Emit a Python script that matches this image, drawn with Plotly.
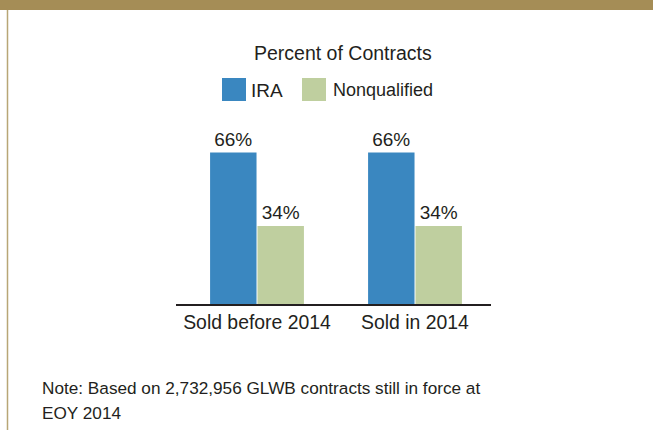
import plotly.graph_objects as go

categories = ["Sold before 2014", "Sold in 2014"]
ira = [66, 66]
nonqualified = [34, 34]
series_names = ["IRA", "Nonqualified"]
title_text = "Percent of Contracts"
note_lines = ["Note: Based on 2,732,956 GLWB contracts still in force at", "EOY 2014"]

W, H = 653, 430
FONT = "Liberation Sans, Arial, sans-serif"
TXT = "#231f20"
BLUE = "#3a87c0"
GREEN = "#bfcf9f"
GOLD = "#a58d56"

fig = go.Figure()
for name, vals, col in [(series_names[0], ira, BLUE), (series_names[1], nonqualified, GREEN)]:
    fig.add_trace(go.Bar(
        x=categories, y=vals, name=name, marker=dict(color=col, line=dict(width=0)),
        text=[f"{v}%" for v in vals], textposition="outside", cliponaxis=False,
        textfont=dict(family=FONT, size=19, color=TXT), showlegend=False, hoverinfo="skip",
    ))

def px(x):
    return x / W

def py(y):
    return 1 - y / H

shapes = [
    dict(type="rect", xref="paper", yref="paper", x0=0, x1=1, y0=py(10), y1=1,
         fillcolor=GOLD, line=dict(width=0), layer="above"),
    dict(type="line", xref="paper", yref="paper", x0=px(7.5), x1=px(7.5), y0=0, y1=py(10),
         line=dict(color="#b8a676", width=1.5)),
    dict(type="rect", xref="paper", yref="paper", x0=px(222), x1=px(246), y0=py(101), y1=py(78),
         fillcolor=BLUE, line=dict(width=0)),
    dict(type="rect", xref="paper", yref="paper", x0=px(302), x1=px(326), y0=py(101), y1=py(78),
         fillcolor=GREEN, line=dict(width=0)),
]

annotations = [
    dict(text=title_text, xref="paper", yref="paper", x=px(343), y=py(53), xanchor="center",
         yanchor="middle", showarrow=False, font=dict(family=FONT, size=19.5, color=TXT)),
    dict(text=series_names[0], xref="paper", yref="paper", x=px(249), y=py(90), xanchor="left",
         yanchor="middle", showarrow=False, font=dict(family=FONT, size=19, color=TXT)),
    dict(text=series_names[1], xref="paper", yref="paper", x=px(331), y=py(90), xanchor="left",
         yanchor="middle", showarrow=False, font=dict(family=FONT, size=18, color=TXT)),
    dict(text=note_lines[0], xref="paper", yref="paper", x=px(40), y=py(388), xanchor="left",
         yanchor="middle", showarrow=False, font=dict(family=FONT, size=17.2, color=TXT)),
    dict(text=note_lines[1], xref="paper", yref="paper", x=px(40), y=py(412.5), xanchor="left",
         yanchor="middle", showarrow=False, font=dict(family=FONT, size=17.2, color=TXT)),
]

fig.update_layout(
    width=W, height=H, margin=dict(l=0, r=0, t=0, b=0),
    paper_bgcolor="white", plot_bgcolor="white",
    barmode="group", bargap=0.4, bargroupgap=0.02,
    shapes=shapes, annotations=annotations, hovermode=False,
    xaxis=dict(domain=[px(176), px(491)], range=[-0.5127, 1.481], showline=True, linewidth=2,
               linecolor=TXT, ticks="", showgrid=False, zeroline=False, fixedrange=True,
               tickfont=dict(family=FONT, size=19.4, color=TXT)),
    yaxis=dict(domain=[py(304), py(140)], range=[0, 71.5], visible=False, showgrid=False,
               fixedrange=True),
)

fig.write_html("out.html", config={"displayModeBar": False},
               post_script="document.body.style.margin='0';document.body.style.overflow='hidden';")
